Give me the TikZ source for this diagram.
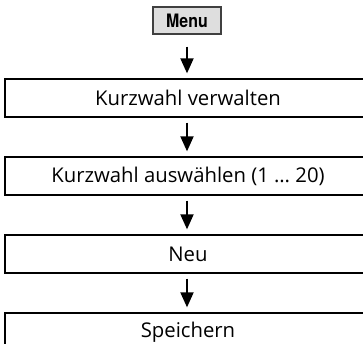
\documentclass[tikz,border=0pt]{standalone}
\usepackage{fontspec}
\setmainfont{Open Sans}
\newfontfamily\menufont[FakeStretch=0.86]{TeX Gyre Heros}
\usetikzlibrary{arrows.meta}
\tikzset{
  stepbox/.style={draw=black, line width=1.3pt, minimum width=366pt, minimum height=38pt,
    inner sep=0pt, font=\fontsize{20.3}{23}\selectfont},
  menubox/.style={draw=black!75, fill=black!13, line width=1.2pt, minimum width=68pt,
    minimum height=27pt, inner sep=0pt, font=\menufont\bfseries\fontsize{18.5}{20}\selectfont},
  flowarrow/.style={line width=1.9pt, -{Triangle[width=13pt,length=15pt]}}
}
\begin{document}
\begin{tikzpicture}[x=1pt,y=-1pt]
\useasboundingbox (0,0) rectangle (363,344);
\clip (0,0) rectangle (363,344);
\node[menubox] (menu) at (187,20.5) {Menu};
\node[stepbox] (b1) at (188,98) {Kurzwahl verwalten};
\node[stepbox] (b2) at (188,176) {Kurzwahl auswählen (1 … 20)};
\node[stepbox] (b3) at (188,254) {Neu};
\node[stepbox] (b4) at (188,332) {Speichern};
\draw[flowarrow, shorten <=12pt, shorten >=5pt] (menu.south) -- (menu.south |- b1.north);
\draw[flowarrow, shorten <=5pt, shorten >=5pt] (menu.south |- b1.south) -- (menu.south |- b2.north);
\draw[flowarrow, shorten <=5pt, shorten >=5pt] (menu.south |- b2.south) -- (menu.south |- b3.north);
\draw[flowarrow, shorten <=5pt, shorten >=5pt] (menu.south |- b3.south) -- (menu.south |- b4.north);
\end{tikzpicture}
\end{document}
